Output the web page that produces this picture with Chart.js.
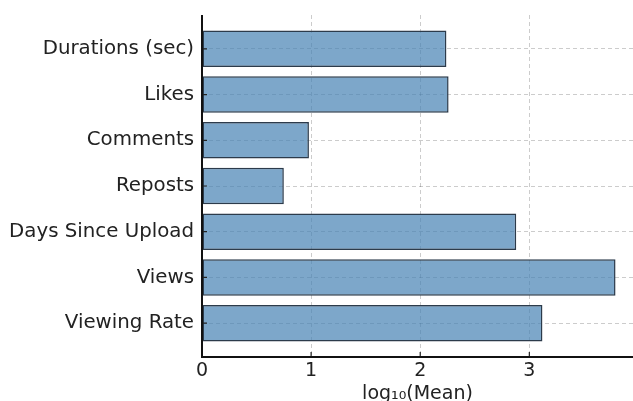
<!DOCTYPE html>
<html>
<head>
<meta charset="utf-8">
<script src="https://cdn.jsdelivr.net/npm/chart.js@4"></script>
<style>
  html, body { margin: 0; padding: 0; background: #fff; }
  #wrap { width: 633px; height: 401px; }
</style>
</head>
<body>
<div id="wrap"><canvas id="chart"></canvas></div>
<script>
const categories = ['Durations (sec)', 'Likes', 'Comments', 'Reposts', 'Days Since Upload', 'Views', 'Viewing Rate'];
const logMeans = [2.24, 2.26, 0.98, 0.75, 2.88, 3.79, 3.12];
const xTicks = [0, 1, 2, 3];

const FONT = 'DejaVu Sans';
const TEXT = '#222';

// inward tick marks + left/bottom spines, matplotlib style
const innerTicks = {
    id: 'innerTicks',
    afterDraw: (chart) => {
        const { ctx, scales: { x, y }, chartArea } = chart;
        ctx.save();
        ctx.strokeStyle = '#222';
        ctx.lineWidth = 1.2;
        ctx.beginPath();
        xTicks.forEach(v => {
            const px = x.getPixelForValue(v);
            ctx.moveTo(px, chartArea.bottom);
            ctx.lineTo(px, chartArea.bottom - 5);
        });
        categories.forEach((c, i) => {
            const py = y.getPixelForValue(i);
            ctx.moveTo(chartArea.left, py);
            ctx.lineTo(chartArea.left + 5, py);
        });
        ctx.stroke();
        ctx.strokeStyle = '#111';
        ctx.lineWidth = 2;
        ctx.beginPath();
        ctx.moveTo(chartArea.left, chartArea.top);
        ctx.lineTo(chartArea.left, chartArea.bottom);
        ctx.lineTo(chartArea.right, chartArea.bottom);
        ctx.stroke();
        ctx.restore();
    }
};

new Chart(document.getElementById('chart'), {
    type: 'bar',
    data: {
        datasets: [{
            data: logMeans.map((v, i) => ({ x: v, y: i })),
            backgroundColor: 'rgba(70, 130, 180, 0.7)',
            borderColor: '#2c3b4b',
            borderWidth: 1.5,
            borderSkipped: false,
            barPercentage: 0.8,
            categoryPercentage: 1
        }]
    },
    options: {
        indexAxis: 'y',
        responsive: true,
        maintainAspectRatio: false,
        animation: false,
        layout: { padding: { top: 15, right: 0, left: 0, bottom: 0 } },
        plugins: { legend: { display: false }, tooltip: { enabled: false } },
        scales: {
            x: {
                type: 'linear',
                min: 0,
                max: 3.95,
                afterBuildTicks: (scale) => { scale.ticks = xTicks.map(v => ({ value: v })); },
                afterFit: (scale) => {
                    scale.height = 44;
                    scale.paddingLeft = 0;
                    scale.paddingRight = 0;
                },
                border: { display: false, dash: [4, 3] },
                grid: { color: 'rgba(0,0,0,0.2)', lineWidth: 1, drawTicks: false },
                ticks: { color: TEXT, font: { family: FONT, size: 19 }, padding: 3 },
                title: {
                    display: true,
                    text: 'log\u2081\u2080(Mean)',
                    color: TEXT,
                    font: { family: FONT, size: 19 },
                    padding: { top: 0, bottom: -4 }
                }
            },
            y: {
                type: 'linear',
                reverse: true,
                offset: false,
                min: -0.74,
                max: 6.74,
                afterBuildTicks: (scale) => { scale.ticks = categories.map((c, i) => ({ value: i })); },
                afterFit: (scale) => {
                    scale.width = 202;
                    scale.paddingTop = 0;
                    scale.paddingBottom = 0;
                },
                border: { display: false, dash: [4, 3] },
                grid: { color: 'rgba(0,0,0,0.2)', lineWidth: 1, drawTicks: false, offset: false },
                ticks: {
                    color: TEXT,
                    font: { family: FONT, size: 19.8 },
                    padding: 8,
                    autoSkip: false,
                    callback: (v) => categories[v]
                }
            }
        }
    },
    plugins: [innerTicks]
});
</script>
</body>
</html>
